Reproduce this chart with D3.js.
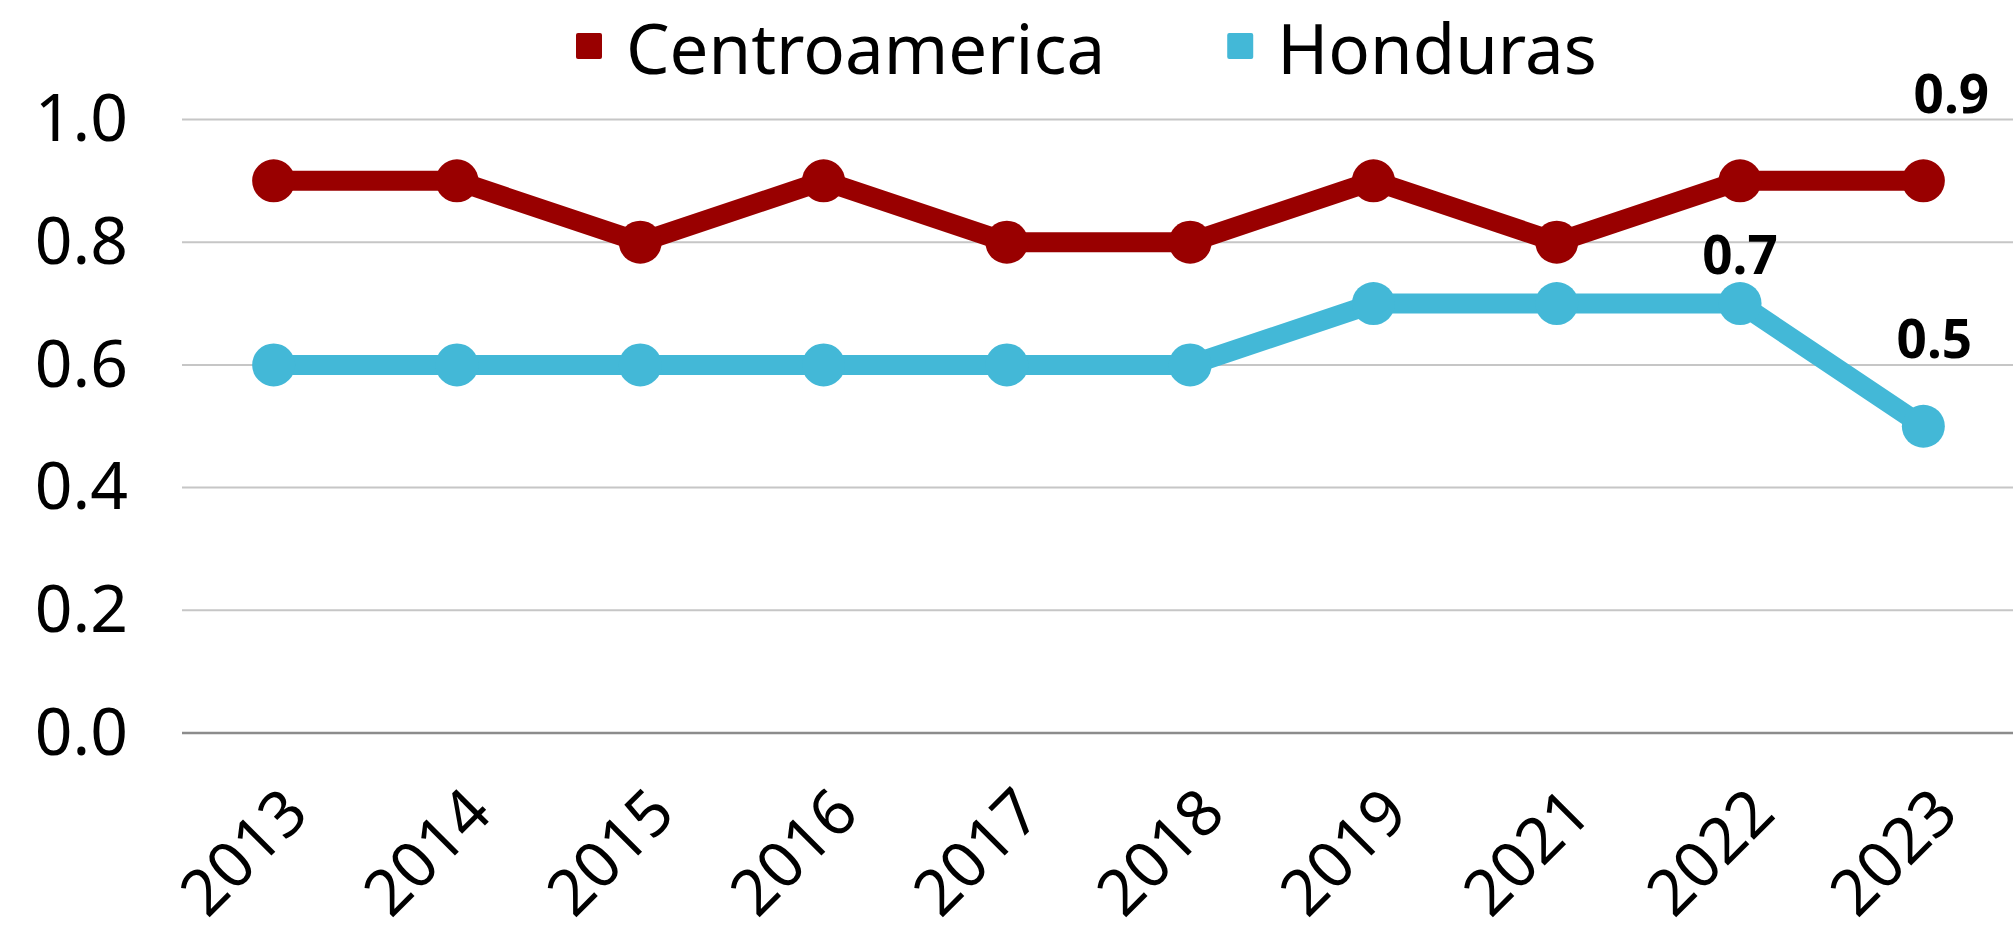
<!DOCTYPE html>
<html>
<head>
<meta charset="utf-8">
<script src="https://cdn.jsdelivr.net/npm/d3@7"></script>
<style>
  html, body { margin: 0; padding: 0; background: #fff; }
  svg { display: block; font-family: "Noto Sans", sans-serif; }
</style>
</head>
<body>
<svg id="chart"></svg>
<script>
const years = ["2013", "2014", "2015", "2016", "2017", "2018", "2019", "2021", "2022", "2023"];
const centroamerica = [0.9, 0.9, 0.8, 0.9, 0.8, 0.8, 0.9, 0.8, 0.9, 0.9];
const honduras = [0.6, 0.6, 0.6, 0.6, 0.6, 0.6, 0.7, 0.7, 0.7, 0.5];
const yTicks = [0, 0.2, 0.4, 0.6, 0.8, 1.0];

const seriesNames = ["Centroamerica", "Honduras"];
const seriesColors = ["#990000", "#43b8d7"];

// labels shown on the chart: [series index, year index]
const valueLabels = [[0, 9], [1, 8], [1, 9]];

const width = 2013, height = 933;
const margin = {top: 119.5, right: -2, bottom: 200, left: 182};

const svg = d3.select("#chart")
    .attr("width", width)
    .attr("height", height);

const x = d3.scalePoint()
    .domain(years)
    .range([margin.left, width - margin.right])
    .padding(0.5);

const y = d3.scaleLinear()
    .domain([0, 1])
    .range([height - margin.bottom, margin.top]);

// gridlines
svg.append("g")
    .selectAll("line")
    .data(yTicks)
    .enter()
    .append("line")
    .attr("x1", margin.left)
    .attr("x2", width)
    .attr("y1", d => y(d))
    .attr("y2", d => y(d))
    .attr("stroke", d => d === 0 ? "#8c8c8c" : "#c6c6c6")
    .attr("stroke-width", d => d === 0 ? 2.5 : 2);

// y axis labels
const yAxis = svg.append("g")
    .attr("transform", `translate(${margin.left},0)`)
    .call(d3.axisLeft(y).tickValues(yTicks).tickFormat(d3.format(".1f")).tickSize(0).tickPadding(54));
yAxis.select(".domain").remove();
yAxis.selectAll("text")
    .style("font-family", "'Noto Sans', sans-serif")
    .style("font-size", "66px")
    .attr("fill", "#000");

// x axis labels, rotated
const xAxis = svg.append("g")
    .attr("transform", `translate(0,${y(0)})`)
    .call(d3.axisBottom(x).tickSize(0));
xAxis.select(".domain").remove();
xAxis.selectAll("text")
    .style("font-family", "'Noto Sans', sans-serif")
    .style("font-size", "64px")
    .attr("fill", "#000")
    .attr("text-anchor", "end")
    .attr("dy", null)
    .attr("y", 0)
    .attr("transform", "translate(37,83) rotate(-45)");

// lines and points
const line = d3.line()
    .x((d, i) => x(years[i]))
    .y(d => y(d));

[centroamerica, honduras].forEach((values, s) => {
    svg.append("path")
        .datum(values)
        .attr("fill", "none")
        .attr("stroke", seriesColors[s])
        .attr("stroke-width", 20)
        .attr("stroke-linejoin", "miter")
        .attr("d", line);

    svg.append("g")
        .selectAll("circle")
        .data(values)
        .enter()
        .append("circle")
        .attr("cx", (d, i) => x(years[i]))
        .attr("cy", d => y(d))
        .attr("r", 21.5)
        .attr("fill", seriesColors[s]);
});

// value labels
const labelOffset = {"0-9": [28, -68], "1-8": [0, -30], "1-9": [11, -68]};
svg.append("g")
    .selectAll("text")
    .data(valueLabels)
    .enter()
    .append("text")
    .attr("x", d => x(years[d[1]]) + labelOffset[d.join("-")][0])
    .attr("y", d => y([centroamerica, honduras][d[0]][d[1]]) + labelOffset[d.join("-")][1])
    .attr("text-anchor", "middle")
    .style("font-size", "53px")
    .style("font-weight", "bold")
    .attr("fill", "#000")
    .text(d => d3.format(".1f")([centroamerica, honduras][d[0]][d[1]]));

// legend
const legend = svg.append("g");
const items = legend.selectAll("g")
    .data(seriesNames)
    .enter()
    .append("g");
items.append("rect")
    .attr("width", 26)
    .attr("height", 26)
    .attr("y", 33)
    .attr("rx", 2)
    .attr("fill", (d, i) => seriesColors[i]);
items.append("text")
    .attr("x", 50)
    .attr("y", 74)
    .style("font-size", "69px")
    .attr("fill", "#000")
    .text(d => d);

let cursor = 576;
items.each(function() {
    d3.select(this).attr("transform", `translate(${cursor},0)`);
    cursor += 50 + this.querySelector("text").getComputedTextLength() + 122;
});
</script>
</body>
</html>
